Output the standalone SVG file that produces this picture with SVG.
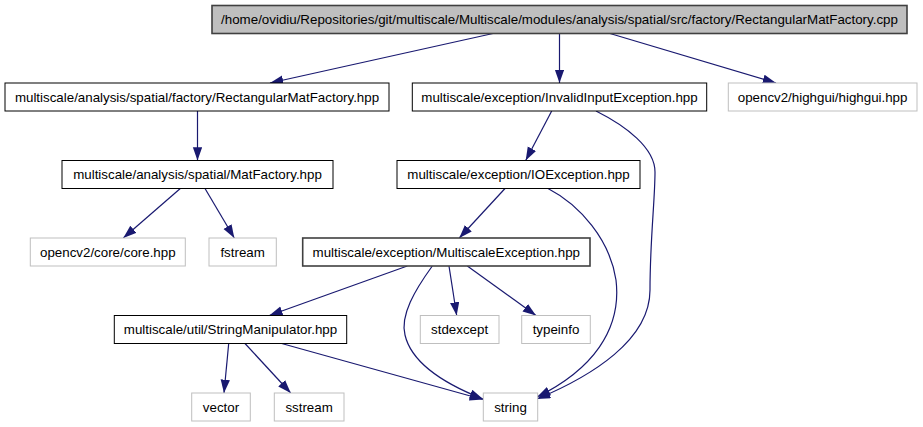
<svg xmlns="http://www.w3.org/2000/svg" width="923" height="427" viewBox="0 0 923 427">
<defs>
<style>
.n rect{fill:#ffffff;stroke:#000000;stroke-width:1}
.n.ext rect{stroke:#bfbfbf}
.n.dk rect{stroke:#404040;stroke-width:1.6}
.n.root rect{fill:#bfbfbf;stroke:#404040;stroke-width:1.6}
.n text{font-family:"Liberation Sans",Arial,Helvetica,sans-serif;font-size:13.33px;fill:#000000;text-anchor:middle}
.e path{fill:none;stroke:#191970;stroke-width:1.2;marker-end:url(#arr)}
</style>
<marker id="arr" markerUnits="userSpaceOnUse" markerWidth="14" markerHeight="10" refX="13.3" refY="4.67" orient="auto">
<path d="M0,0 L13.3,4.67 L0,9.33 z" fill="#191970"/>
</marker>
</defs>
<rect width="923" height="427" fill="#ffffff"/>
<g id="connectors" class="e">
<path d="M493,33.5 L270,83"/>
<path d="M559.5,33.5 L559.5,83"/>
<path d="M610,33.5 L776,83"/>
<path d="M197.5,111 L197.5,160.5"/>
<path d="M551.7,111 L525.7,160.5"/>
<path d="M596,111 C626,126 655,148 655,172 C655,200 650,240 650,290 C650,340 592,376 537,399"/>
<path d="M180.3,188.5 L123.3,238"/>
<path d="M205,188.5 L234.3,238"/>
<path d="M505,188.5 L459.3,238"/>
<path d="M548,188.5 C580,205 610,240 616,280 C622,330 592,370 537,397"/>
<path d="M407.3,266 L269.3,315.5"/>
<path d="M432.3,266 C415,290 400,315 405,335 C412,365 450,386 483,399"/>
<path d="M449,266 L456.7,315.5"/>
<path d="M467.3,266 L536,315.5"/>
<path d="M228.7,343.5 L224,393"/>
<path d="M245,343.5 L290.7,393"/>
<path d="M281.7,343.5 L483,399.5"/>
</g>
<g id="node-root" class="n root"><rect x="212" y="5.5" width="695" height="28"/><text x="559.5" y="24">/home/ovidiu/Repositories/git/multiscale/Multiscale/modules/analysis/spatial/src/factory/RectangularMatFactory.cpp</text></g>
<g id="node-rmf" class="n"><rect x="5" y="83" width="384" height="28"/><text x="197" y="101.5">multiscale/analysis/spatial/factory/RectangularMatFactory.hpp</text></g>
<g id="node-invalid" class="n"><rect x="412.3" y="83" width="294.4" height="28"/><text x="559.5" y="101.5">multiscale/exception/InvalidInputException.hpp</text></g>
<g id="node-highgui" class="n ext"><rect x="728.3" y="83" width="188.7" height="28"/><text x="822.6" y="101.5">opencv2/highgui/highgui.hpp</text></g>
<g id="node-matfactory" class="n"><rect x="62" y="160.5" width="271" height="28"/><text x="197.5" y="179">multiscale/analysis/spatial/MatFactory.hpp</text></g>
<g id="node-ioexception" class="n"><rect x="397" y="160.5" width="243" height="28"/><text x="518.5" y="179">multiscale/exception/IOException.hpp</text></g>
<g id="node-core" class="n ext"><rect x="30.3" y="238" width="155" height="28"/><text x="107.8" y="256.5">opencv2/core/core.hpp</text></g>
<g id="node-fstream" class="n ext"><rect x="209" y="238" width="67.3" height="28"/><text x="242.6" y="256.5">fstream</text></g>
<g id="node-msexception" class="n dk"><rect x="302.7" y="238" width="287.3" height="28"/><text x="446.3" y="256.5">multiscale/exception/MultiscaleException.hpp</text></g>
<g id="node-stringmanip" class="n"><rect x="114.3" y="315.5" width="232.4" height="28"/><text x="230.5" y="334">multiscale/util/StringManipulator.hpp</text></g>
<g id="node-stdexcept" class="n ext"><rect x="420.3" y="315.5" width="78.7" height="28"/><text x="459.6" y="334">stdexcept</text></g>
<g id="node-typeinfo" class="n ext"><rect x="521.7" y="315.5" width="68.6" height="28"/><text x="556" y="334">typeinfo</text></g>
<g id="node-vector" class="n ext"><rect x="191.7" y="393" width="58.6" height="28"/><text x="221" y="411.5">vector</text></g>
<g id="node-sstream" class="n ext"><rect x="274.3" y="393" width="69.7" height="28"/><text x="309.1" y="411.5">sstream</text></g>
<g id="node-string" class="n ext"><rect x="483.3" y="393" width="54.4" height="28"/><text x="510.5" y="411.5">string</text></g>
</svg>
